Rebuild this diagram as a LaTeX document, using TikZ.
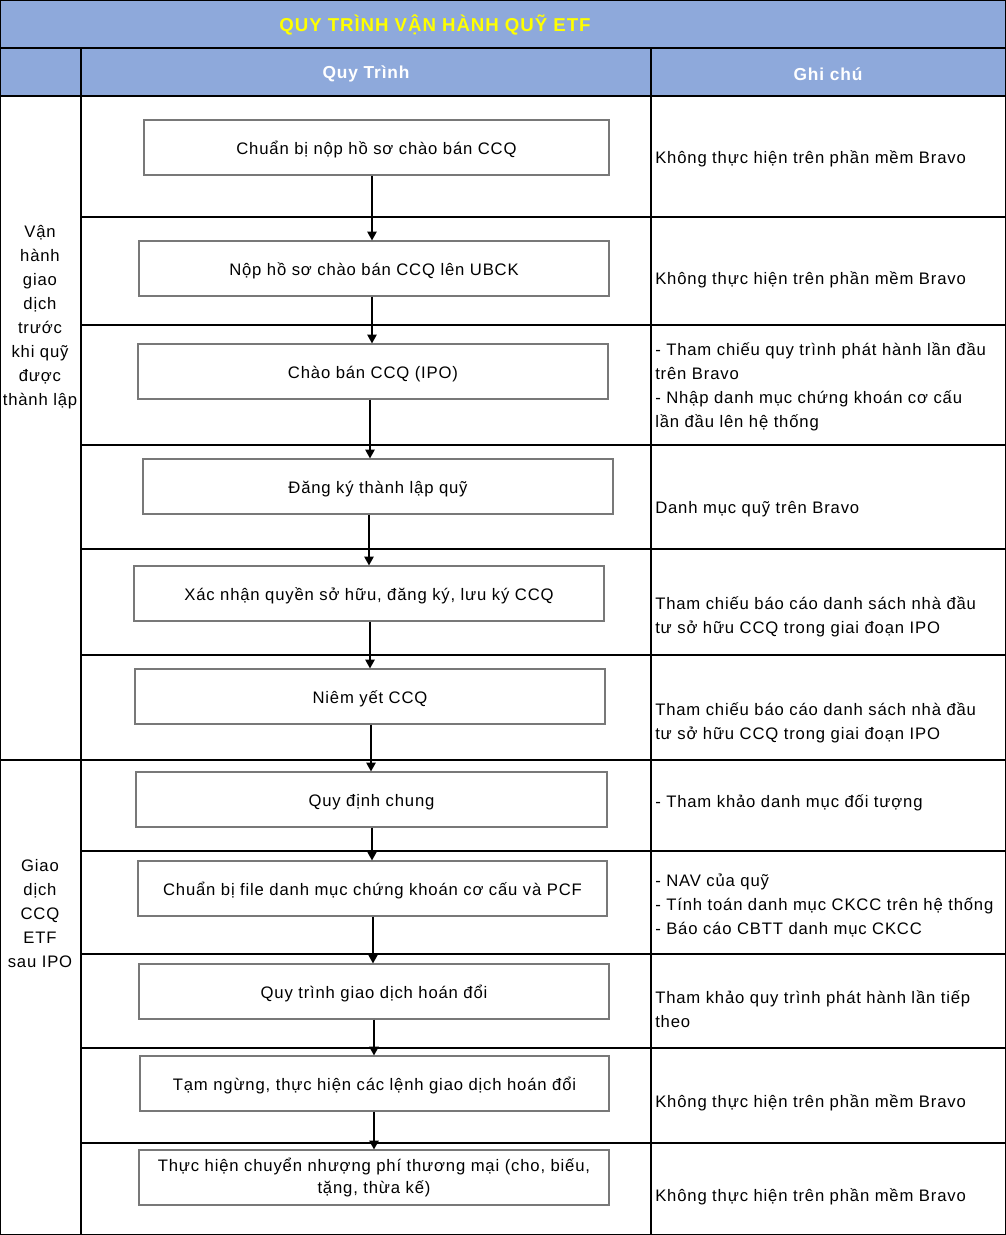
\documentclass[tikz,border=0pt]{standalone}
\usepackage{fontspec}
\setmainfont{Liberation Sans}[LetterSpace=5]
\usetikzlibrary{arrows.meta}
\definecolor{hdr}{RGB}{142,169,219}
\definecolor{boxgray}{RGB}{120,120,120}
\definecolor{ttl}{RGB}{255,255,0}
\begin{document}
\begin{tikzpicture}[x=0.75pt,y=-0.75pt,
  grid/.style={line width=0.9pt,black},
  boxbase/.style={draw=boxgray,line width=0.9pt,minimum height=41.25pt,inner sep=2pt,align=center,font=\fontsize{12.5}{16}\selectfont},
  stepbox/.style={boxbase,text height=10pt,text depth=0pt},
  note/.style={anchor=west,inner sep=0pt,align=left,yshift=-1.5pt,font=\fontsize{12.5}{18}\selectfont},
  side/.style={inner sep=0pt,align=center,yshift=-1.5pt,font=\fontsize{12.5}{18}\selectfont},
  hd/.style={font=\bfseries\fontsize{13}{16}\selectfont,text=white},
  arr/.style={line width=0.8pt,-{Triangle[length=6.5pt,width=7pt]}}]
\useasboundingbox (0,0) rectangle (1006,1235);
% header fills
\fill[hdr] (0,0) rectangle (1006,96);
% grid
\draw[grid] (0.5,0.5) rectangle (1005.5,1234.5);
\draw[grid] (0,48) -- (1006,48);
\draw[grid] (0,96) -- (1006,96);
\draw[grid] (0,760) -- (1006,760);
\foreach \yy in {217,325,445,549,655,851,954,1048,1143}
  \draw[grid] (81,\yy) -- (1006,\yy);
\draw[grid] (81,48) -- (81,1235);
\draw[grid] (651,48) -- (651,1235);
% header texts
\node[font=\bfseries\fontsize{14}{16}\selectfont,text=ttl] (title) at (435,25) {QUY TRÌNH VẬN HÀNH QUỸ ETF};
\node[hd] (h1) at (366,74) {Quy Trình};
\node[hd] (h2) at (828,74) {Ghi chú};
% side labels
\node[side] (g1) at (40,315) {Vận\\hành\\giao\\dịch\\trước\\khi quỹ\\được\\thành lập};
\node[side] (g2) at (40,912) {Giao\\dịch\\CCQ\\ETF\\sau IPO};
% process boxes
\node[stepbox,minimum width=348.75pt] (b1) at (376.5,147.5) {Chuẩn bị nộp hồ sơ chào bán CCQ};
\node[stepbox,minimum width=352.5pt] (b2) at (374,268.5) {Nộp hồ sơ chào bán CCQ lên UBCK};
\node[stepbox,minimum width=352.5pt] (b3) at (373,371.5) {Chào bán CCQ (IPO)};
\node[stepbox,minimum width=352.5pt] (b4) at (378,486.5) {Đăng ký thành lập quỹ};
\node[stepbox,minimum width=352.5pt] (b5) at (369,593.5) {Xác nhận quyền sở hữu, đăng ký, lưu ký CCQ};
\node[stepbox,minimum width=352.5pt] (b6) at (370,696.5) {Niêm yết CCQ};
\node[stepbox,minimum width=353.25pt] (b7) at (371.5,799.5) {Quy định chung};
\node[stepbox,minimum width=351.75pt] (b8) at (372.5,888.5) {Chuẩn bị file danh mục chứng khoán cơ cấu và PCF};
\node[stepbox,minimum width=352.5pt] (b9) at (374,991.5) {Quy trình giao dịch hoán đổi};
\node[stepbox,minimum width=351.75pt] (b10) at (374.5,1083.5) {Tạm ngừng, thực hiện các lệnh giao dịch hoán đổi};
\node[boxbase,minimum width=352.5pt] (b11) at (374,1177.5) {Thực hiện chuyển nhượng phí thương mại (cho, biếu,\\tặng, thừa kế)};
% arrow x positions
\coordinate (x1) at (372,0);
\coordinate (x2) at (372,0);
\coordinate (x3) at (370,0);
\coordinate (x4) at (369,0);
\coordinate (x5) at (370,0);
\coordinate (x6) at (371,0);
\coordinate (x7) at (372,0);
\coordinate (x8) at (373,0);
\coordinate (x9) at (374,0);
\coordinate (x10) at (374,0);
% arrows
\foreach \a/\b/\x in {b1/b2/x1,b2/b3/x2,b3/b4/x3,b4/b5/x4,b5/b6/x5,b6/b7/x6,b7/b8/x7,b8/b9/x8,b9/b10/x9,b10/b11/x10}
  \draw[arr] (\a.south -| \x) -- (\b.north -| \x);
% notes
\node[note] (n1) at (655,157) {Không thực hiện trên phần mềm Bravo};
\node[note] (n2) at (655,278) {Không thực hiện trên phần mềm Bravo};
\node[note] (n3) at (655,385) {- Tham chiếu quy trình phát hành lần đầu\\trên Bravo\\- Nhập danh mục chứng khoán cơ cấu\\lần đầu lên hệ thống};
\node[note] (n4) at (655,507) {Danh mục quỹ trên Bravo};
\node[note] (n5) at (655,615) {Tham chiếu báo cáo danh sách nhà đầu\\tư sở hữu CCQ trong giai đoạn IPO};
\node[note] (n6) at (655,721) {Tham chiếu báo cáo danh sách nhà đầu\\tư sở hữu CCQ trong giai đoạn IPO};
\node[note] (n7) at (655,801) {- Tham khảo danh mục đối tượng};
\node[note] (n8) at (655,903.5) {- NAV của quỹ\\- Tính toán danh mục CKCC trên hệ thống\\- Báo cáo CBTT danh mục CKCC};
\node[note] (n9) at (655,1007.5) {Tham khảo quy trình phát hành lần tiếp\\theo};
\node[note] (n10) at (655,1101) {Không thực hiện trên phần mềm Bravo};
\node[note] (n11) at (655,1195) {Không thực hiện trên phần mềm Bravo};
\end{tikzpicture}
\end{document}
